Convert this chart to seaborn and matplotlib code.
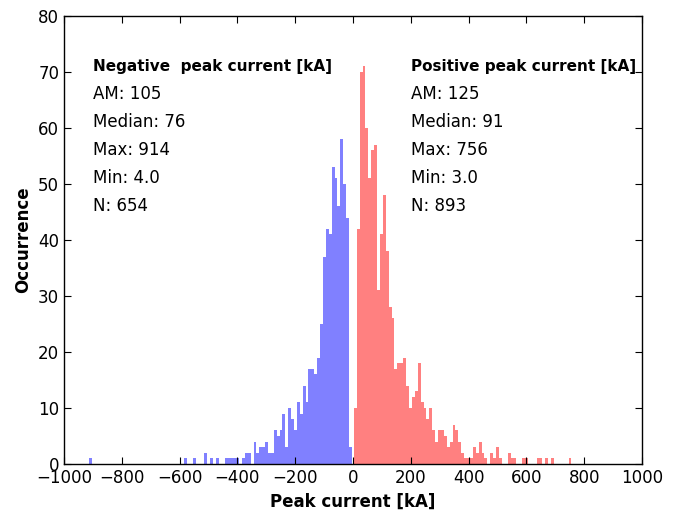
import numpy as np
import pandas as pd
import matplotlib
matplotlib.use("Agg")
import matplotlib.pyplot as plt
import seaborn as sns

# Histogram counts (10 kA wide bins)
neg_counts = [
    1, 0, 0, 0, 0, 0, 0, 0, 0, 0,
    0, 0, 0, 0, 0, 0, 0, 0, 0, 0,
    0, 0, 0, 0, 0, 0, 0, 0, 0, 0,
    0, 0, 0, 1, 0, 0, 1, 0, 0, 0,
    2, 0, 1, 0, 1, 0, 0, 1, 1, 1,
    1, 1, 0, 1, 2, 2, 0, 4, 2, 3,
    3, 4, 2, 2, 6, 5, 6, 9, 3, 10,
    8, 6, 11, 9, 14, 11, 17, 17, 16, 19,
    25, 37, 42, 41, 53, 51, 46, 58, 50, 44,
    3,
]
pos_counts = [
    10, 42, 70, 71, 60, 51, 56, 57, 31, 41,
    48, 38, 28, 26, 17, 18, 18, 19, 14, 10,
    12, 13, 18, 11, 10, 8, 10, 6, 4, 6,
    6, 5, 3, 4, 7, 6, 4, 2, 1, 1,
    1, 3, 2, 4, 2, 1, 0, 2, 1, 3,
    1, 0, 0, 2, 1, 1, 0, 0, 1, 1,
    0, 0, 0, 1, 1, 0, 1, 0, 1, 0,
    0, 0, 0, 0, 1,
]
neg_min, neg_max = -914, -4
pos_min, pos_max = 3, 756

neg_stats = ["AM: 105", "Median: 76", "Max: 914", "Min: 4.0", "N: 654"]
pos_stats = ["AM: 125", "Median: 91", "Max: 756", "Min: 3.0", "N: 893"]

neg_edges = np.linspace(neg_min, neg_max, len(neg_counts) + 1)
pos_edges = np.linspace(pos_min, pos_max, len(pos_counts) + 1)
neg_df = pd.DataFrame({"current": (neg_edges[:-1] + neg_edges[1:]) / 2,
                       "count": neg_counts})
pos_df = pd.DataFrame({"current": (pos_edges[:-1] + pos_edges[1:]) / 2,
                       "count": pos_counts})

fig = plt.figure(figsize=(6.78, 5.12), dpi=100)
ax = fig.add_axes([64 / 678, 1 - 464 / 512, 578 / 678, 448 / 512])

sns.histplot(data=neg_df, x="current", weights="count", bins=list(neg_edges),
             color="#8080ff", alpha=1, linewidth=0, edgecolor="none", ax=ax)
sns.histplot(data=pos_df, x="current", weights="count", bins=list(pos_edges),
             color="#ff8080", alpha=1, linewidth=0, edgecolor="none", ax=ax)

ax.set_xlim(-1000, 1000)
ax.set_ylim(0, 80)
ax.set_xticks(range(-1000, 1001, 200))
ax.set_yticks(range(0, 81, 10))
ax.tick_params(direction="in", top=True, right=True, labelsize=12, length=5)
for s in ax.spines.values():
    s.set_linewidth(1.0)

ax.set_xlabel("Peak current [kA]", fontsize=12, fontweight="bold")
ax.set_ylabel("Occurrence", fontsize=12, fontweight="bold")

# Summary text for both polarities
ax.text(-900, 71, "Negative  peak current [kA]", fontsize=11, fontweight="bold", va="center")
ax.text(200, 71, "Positive peak current [kA]", fontsize=11, fontweight="bold", va="center")
for i, (a, b) in enumerate(zip(neg_stats, pos_stats)):
    y = 66 - 5 * i
    ax.text(-900, y, a, fontsize=12, va="center")
    ax.text(200, y, b, fontsize=12, va="center")

fig.savefig("out.png", dpi=100)
